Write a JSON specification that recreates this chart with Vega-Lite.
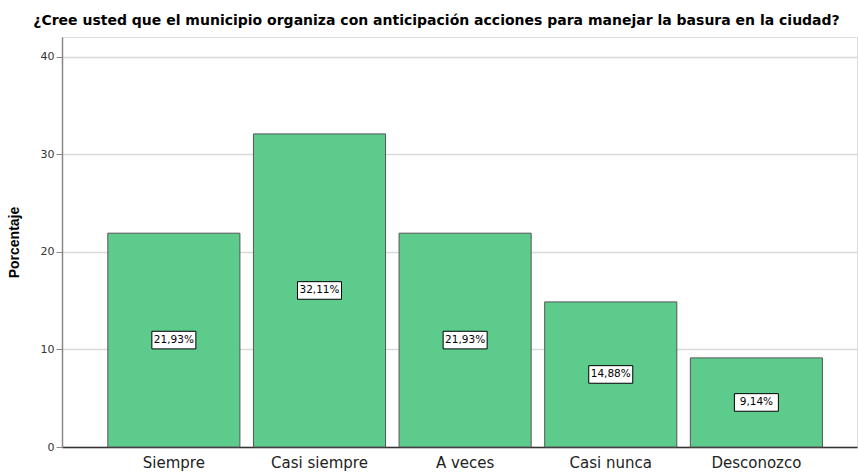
{
  "$schema": "https://vega.github.io/schema/vega-lite/v6.json",
  "autosize": {"type": "none"},
  "padding": {"left": 62, "top": 37, "right": 2, "bottom": 25},
  "width": 795,
  "height": 410,
  "background": "white",
  "title": {
    "text": "¿Cree usted que el municipio organiza con anticipación acciones para manejar la basura en la ciudad?",
    "font": "DejaVu Sans",
    "fontSize": 14,
    "fontWeight": "bold",
    "color": "#000000",
    "anchor": "middle",
    "dx": -23,
    "offset": 9
  },
  "data": {
    "values": [
      {"cat": "Siempre", "pct": 21.93, "label": "21,93%"},
      {"cat": "Casi siempre", "pct": 32.11, "label": "32,11%"},
      {"cat": "A veces", "pct": 21.93, "label": "21,93%"},
      {"cat": "Casi nunca", "pct": 14.88, "label": "14,88%"},
      {"cat": "Desconozco", "pct": 9.14, "label": "9,14%"}
    ]
  },
  "transform": [{"calculate": "datum.pct / 2", "as": "mid"}],
  "encoding": {
    "x": {
      "field": "cat",
      "type": "nominal",
      "sort": null,
      "scale": {"paddingInner": 0.093, "paddingOuter": 0.276, "align": 0.57},
      "axis": {
        "title": null,
        "labelAngle": 0,
        "labelFont": "DejaVu Sans",
        "labelFontSize": 15,
        "labelColor": "#222222",
        "labelPadding": 8,
        "ticks": false,
        "domain": true,
        "domainColor": "#333333",
        "domainWidth": 1.5,
        "grid": false
      }
    }
  },
  "layer": [
    {
      "mark": {"type": "bar", "color": "#5ccb8b", "stroke": "#555555", "strokeWidth": 1},
      "encoding": {
        "y": {
          "field": "pct",
          "type": "quantitative",
          "scale": {"domain": [0, 42.05], "nice": false},
          "axis": {
            "title": "Porcentaje",
            "titleFont": "Liberation Sans",
            "titleFontSize": 14,
            "titleFontWeight": "bold",
            "titleColor": "#000000",
            "titlePadding": 19,
            "values": [0, 10, 20, 30, 40],
            "labelFont": "DejaVu Sans",
            "labelFontSize": 11,
            "labelColor": "#333333",
            "tickSize": 6,
            "tickColor": "#888888",
            "labelPadding": 2,
            "domainColor": "#888888",
            "domainWidth": 1.5,
            "grid": true,
            "gridColor": "#d9d9d9",
            "gridWidth": 1.5
          }
        }
      }
    },
    {
      "mark": {
        "type": "point",
        "shape": "M-1,-0.4L1,-0.4L1,0.4L-1,0.4Z",
        "filled": true,
        "fill": "white",
        "stroke": "#000000",
        "strokeWidth": 1,
        "opacity": 1
      },
      "encoding": {
        "y": {"field": "mid", "type": "quantitative"},
        "size": {"value": 1936}
      }
    },
    {
      "mark": {"type": "text", "font": "DejaVu Sans", "fontSize": 10.5, "color": "#000000", "baseline": "middle", "align": "center"},
      "encoding": {
        "y": {"field": "mid", "type": "quantitative"},
        "text": {"field": "label"}
      }
    }
  ]
}
